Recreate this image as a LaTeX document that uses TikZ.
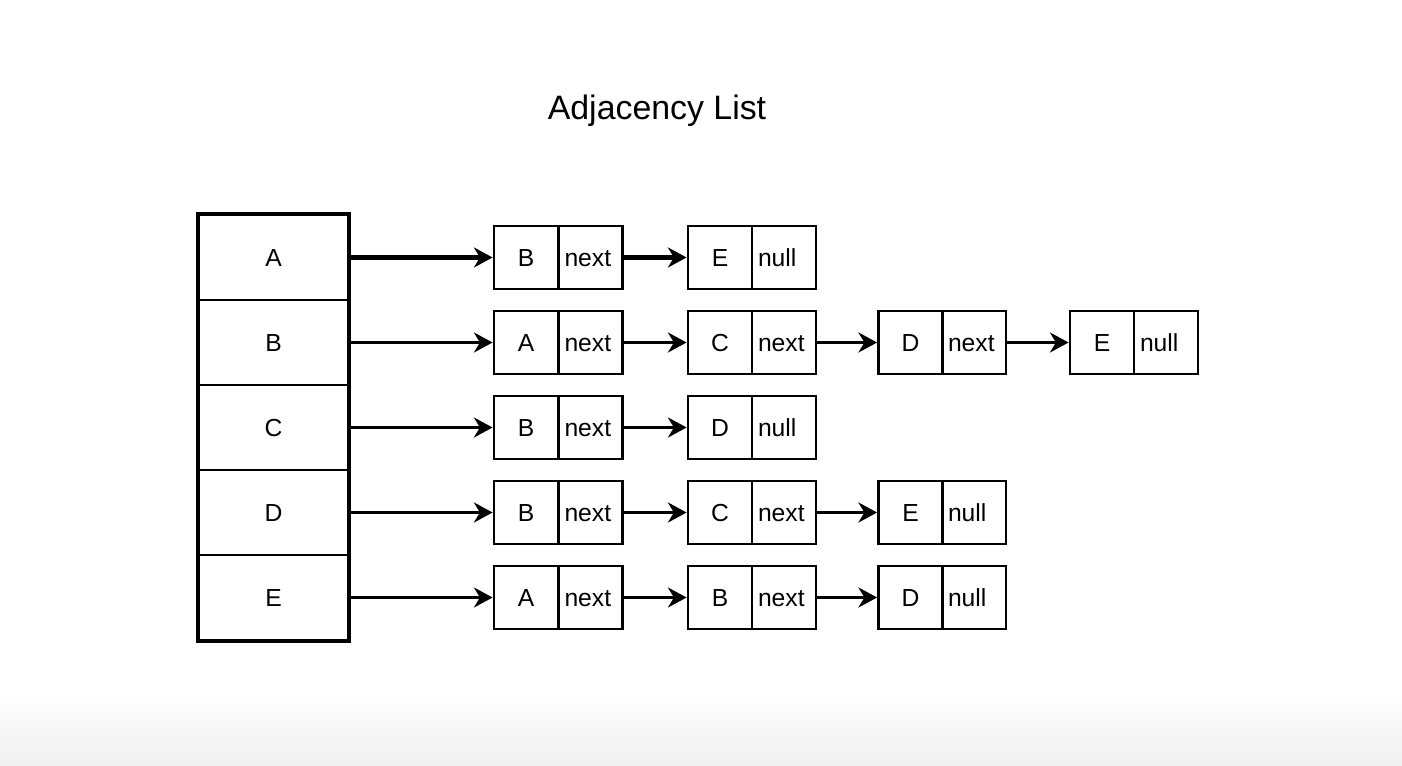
\documentclass[tikz,border=0pt]{standalone}
\usepackage{fontspec}
\setmainfont{Liberation Sans}
\usetikzlibrary{arrows.meta}
\begin{document}
\begin{tikzpicture}[x=0.75pt,y=-0.75pt,
  txt/.style={font=\fontsize{18.5pt}{22pt}\selectfont, text height=13.25pt, text depth=0pt},
  colrow/.style={txt, draw, line width=2.2pt, minimum width=111.75pt, minimum height=63.75pt, inner sep=0pt},
  valcell/.style={txt, draw, line width=2.1pt, minimum width=48pt, minimum height=47.25pt, inner sep=0pt},
  ptrcell/.style={txt, draw, line width=2.1pt, minimum width=48pt, minimum height=47.25pt, inner xsep=4.5pt, inner ysep=0pt, text width=39pt, align=left},
  link/.style={line width=2.3pt, -{Stealth[length=14pt,width=15pt,inset=4.5pt]}},
  linkbold/.style={link, line width=3.2pt},
  colborder/.style={line width=2.9pt}]
\fill[white] (0,0) rectangle (1402,766);
\shade[top color=white, bottom color=black!6] (0,690) rectangle (1402,766);
\useasboundingbox (0,0) rectangle (1402,766);

\node[font=\fontsize{25.4pt}{30pt}\selectfont, anchor=base] (title) at (657,119.5) {Adjacency List};

% column of vertices
\node[colrow] (rA) at (273.5,257.5) {A};
\node[colrow] (rB) at (273.5,342.5) {B};
\node[colrow] (rC) at (273.5,427.5) {C};
\node[colrow] (rD) at (273.5,512.5) {D};
\node[colrow] (rE) at (273.5,597.5) {E};
\draw[colborder] (rA.north west) rectangle (rE.south east);

% row A
\node[valcell] (a1v) at (526,257.5) {B};
\node[ptrcell] (a1p) at (590.5,257.5) {next};
\node[valcell] (a2v) at (720,257.5) {E};
\node[ptrcell] (a2p) at (784,257.5) {null};
\draw[linkbold] (rA.east) -- (a1v.west);
\draw[linkbold] (a1p.east) -- (a2v.west);

% row B
\node[valcell] (b1v) at (526,342.5) {A};
\node[ptrcell] (b1p) at (590.5,342.5) {next};
\node[valcell] (b2v) at (720,342.5) {C};
\node[ptrcell] (b2p) at (784,342.5) {next};
\node[valcell] (b3v) at (910.5,342.5) {D};
\node[ptrcell] (b3p) at (974,342.5) {next};
\node[valcell] (b4v) at (1102,342.5) {E};
\node[ptrcell] (b4p) at (1166,342.5) {null};
\draw[link] (rB.east) -- (b1v.west);
\draw[link] (b1p.east) -- (b2v.west);
\draw[link] (b2p.east) -- (b3v.west);
\draw[link] (b3p.east) -- (b4v.west);

% row C
\node[valcell] (c1v) at (526,427.5) {B};
\node[ptrcell] (c1p) at (590.5,427.5) {next};
\node[valcell] (c2v) at (720,427.5) {D};
\node[ptrcell] (c2p) at (784,427.5) {null};
\draw[link] (rC.east) -- (c1v.west);
\draw[link] (c1p.east) -- (c2v.west);

% row D
\node[valcell] (d1v) at (526,512.5) {B};
\node[ptrcell] (d1p) at (590.5,512.5) {next};
\node[valcell] (d2v) at (720,512.5) {C};
\node[ptrcell] (d2p) at (784,512.5) {next};
\node[valcell] (d3v) at (910.5,512.5) {E};
\node[ptrcell] (d3p) at (974,512.5) {null};
\draw[link] (rD.east) -- (d1v.west);
\draw[link] (d1p.east) -- (d2v.west);
\draw[link] (d2p.east) -- (d3v.west);

% row E
\node[valcell] (e1v) at (526,597.5) {A};
\node[ptrcell] (e1p) at (590.5,597.5) {next};
\node[valcell] (e2v) at (720,597.5) {B};
\node[ptrcell] (e2p) at (784,597.5) {next};
\node[valcell] (e3v) at (910.5,597.5) {D};
\node[ptrcell] (e3p) at (974,597.5) {null};
\draw[link] (rE.east) -- (e1v.west);
\draw[link] (e1p.east) -- (e2v.west);
\draw[link] (e2p.east) -- (e3v.west);
\end{tikzpicture}
\end{document}
